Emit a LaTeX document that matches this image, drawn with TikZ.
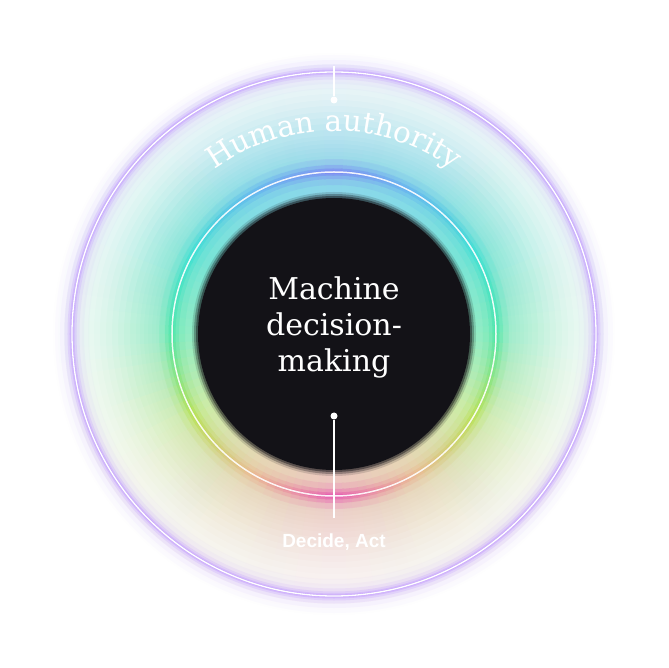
\documentclass[tikz,border=0pt]{standalone}
\usepackage{fontspec}
\newfontfamily\serifface{DejaVu Serif}
\newfontfamily\sansface{Liberation Sans}
\usetikzlibrary{decorations.text}
\definecolor{nar0}{HTML}{7C7CF4}
\definecolor{nar1}{HTML}{5AB0F2}
\definecolor{nar2}{HTML}{2EE0D4}
\definecolor{nar3}{HTML}{40E6A4}
\definecolor{nar4}{HTML}{B4E040}
\definecolor{nar5}{HTML}{ECB48A}
\definecolor{nar6}{HTML}{E646AE}
\definecolor{haze0}{HTML}{8CD6EA}
\definecolor{haze1}{HTML}{84DBE6}
\definecolor{haze2}{HTML}{78E4D6}
\definecolor{haze3}{HTML}{90ECC4}
\definecolor{haze4}{HTML}{CDEBA6}
\definecolor{haze5}{HTML}{E6D6B4}
\definecolor{haze6}{HTML}{ECC6C0}
\definecolor{diskc}{HTML}{131217}
\definecolor{ringpurple}{HTML}{C29CFF}
\tikzset{
  dotnode/.style={circle, fill=white, inner sep=0pt, minimum size=7pt},
  pinline/.style={white, line width=1.2pt},
}
\pgfmathdeclarefunction{hazeA}{1}{\pgfmathparse{(0.7*exp(-((#1-150)/65)^2)+0.3*exp(-(#1-150)/70))*(#1>258 ? exp(-((#1-258)/9)^2) : 1)}}
\newcommand{\buildpalette}[2]{
  \foreach \a in {0,3,...,357}{
    \pgfmathsetmacro{\dd}{min(abs(\a+1.5-90),360-abs(\a+1.5-90))}
    \pgfmathtruncatemacro{\kk}{min(floor(\dd/30),5)}
    \pgfmathtruncatemacro{\kn}{\kk+1}
    \pgfmathtruncatemacro{\pp}{100-(\dd-30*\kk)/30*100}
    \xglobal\colorlet{#2\a}{#1\kk!\pp!#1\kn}
  }
}
\buildpalette{haze}{hz}
\buildpalette{nar}{nr}
\newcommand{\colorwedges}[2]{
  \foreach \a in {0,3,...,357}
    \fill[#1\a] (0,0) -- (\a:#2) arc[start angle=\a, end angle=\a+3.6, radius=#2] -- cycle;
}
\newcommand{\colorring}[4]{
  \begin{scope}[transparency group, opacity=#4]
    \foreach \a in {0,3,...,357}
      \draw[#1\a, line width=#3] (\a:#2) arc[start angle=\a, end angle=\a+3.6, radius=#2];
  \end{scope}
}
\newcommand{\machinefont}{\serifface\fontsize{30}{36}\selectfont}
\newcommand{\authfont}{\serifface\fontsize{29.5}{34}\selectfont}

\begin{document}
\begin{tikzpicture}[x=1pt, y=1pt]
    \useasboundingbox (-334,-334) rectangle (334,334);
    \fill[white] (-334,-334) rectangle (334,334);
    \colorwedges{hz}{292}
    \foreach \r/\q in {154/150,158/154,162/158,166/162,170/166,174/170,178/174,182/178,186/182,190/186,
        194/190,198/194,204/198,210/204,216/210,222/216,228/222,234/228,240/234,246/240,252/246,258/252,
        264/258,270/264,276/270}{
        \pgfmathsetmacro{\w}{1-hazeA(\r)/hazeA(\q)}
        \fill[white, opacity=\w, even odd rule] (0,0) circle[radius=300] (0,0) circle[radius=\r];
    }
    \fill[white, even odd rule] (0,0) circle[radius=300] (0,0) circle[radius=281];
    \foreach \w/\o in {34pt/0.04, 24pt/0.07, 15pt/0.14, 9pt/0.25, 5pt/0.4, 2.5pt/0.5}
        \draw[ringpurple, line width=\w, opacity=\o] (0,0) circle[radius=262];
    \draw[white, line width=1.3pt] (0,0) circle[radius=262];
    \colorring{nr}{162}{26pt}{0.15}
    \colorring{nr}{162}{14pt}{0.3}
    \colorring{nr}{162}{7pt}{0.45}
    \colorring{nr}{162}{3pt}{0.5}
    \draw[white, line width=1.5pt, opacity=0.9] (0,0) circle[radius=162];
    \foreach \rr/\o in {142/0.15, 140/0.3, 138/0.45}
        \fill[diskc, opacity=\o] (0,0) circle[radius=\rr];
    \fill[diskc] (0,0) circle[radius=136];
    \node (machine) [align=center, text=white, font=\machinefont] at (0,7) {Machine\\decision-\\making};
    \path[decorate, decoration={text along path, text align=center, text color=white,
        text={|\authfont|Human authority}}] (133:203) arc[start angle=133, end angle=47, radius=203];
    \coordinate (topend) at (0,268);
    \node (topdot) [dotnode] at (0,234) {};
    \draw[pinline] (topend) -- (topdot);
    \node (botdot) [dotnode] at (0,-82) {};
    \coordinate (botend) at (0,-184);
    \draw[pinline] (botdot) -- (botend);
    \node (act) [anchor=base, text=white, font=\sansface\bfseries\fontsize{19}{23}\selectfont] at (0,-213) {Decide, Act};
\end{tikzpicture}
\end{document}
